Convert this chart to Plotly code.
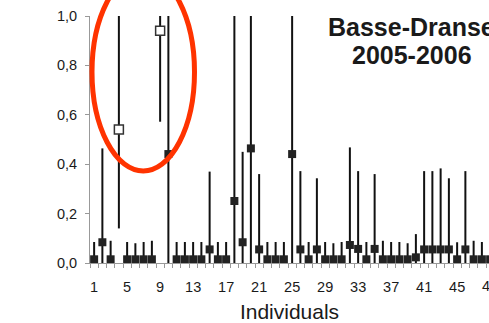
import plotly.graph_objects as go

# ---- data ----
individuals = list(range(1, 50))
values = [0.015, 0.084, 0.015, 0.54, 0.015, 0.015, 0.015, 0.015, 0.94, 0.441,
          0.015, 0.015, 0.015, 0.015, 0.055, 0.015, 0.015, 0.251, 0.084, 0.464,
          0.055, 0.015, 0.015, 0.015, 0.441, 0.055, 0.015, 0.055, 0.015, 0.015,
          0.015, 0.073, 0.057, 0.015, 0.057, 0.015, 0.015, 0.015, 0.015, 0.023,
          0.055, 0.055, 0.055, 0.055, 0.015, 0.055, 0.015, 0.015, 0.015]
upper = [0.085, 0.464, 0.09, 1.0, 0.085, 0.08, 0.085, 0.09, 1.0, 1.0,
         0.085, 0.085, 0.085, 0.085, 0.37, 0.085, 0.085, 1.0, 0.45, 1.0,
         0.36, 0.085, 0.085, 0.085, 1.0, 0.372, 0.085, 0.343, 0.085, 0.08,
         0.085, 0.468, 0.372, 0.085, 0.36, 0.09, 0.085, 0.085, 0.08, 0.117,
         0.372, 0.372, 0.383, 0.343, 0.084, 0.372, 0.09, 0.085, 0.085]
lower = [0.0, 0.0, 0.0, 0.14, 0.0, 0.0, 0.0, 0.0, 0.572, 0.0,
         0.0, 0.0, 0.0, 0.0, 0.0, 0.0, 0.0, 0.0, 0.0, 0.0,
         0.0, 0.0, 0.0, 0.0, 0.0, 0.0, 0.0, 0.0, 0.0, 0.0,
         0.0, 0.0, 0.0, 0.0, 0.0, 0.0, 0.0, 0.0, 0.0, 0.0,
         0.0, 0.0, 0.0, 0.0, 0.0, 0.0, 0.0, 0.0, 0.0]
open_points = [4, 9]
y_tickvals = [0.0, 0.2, 0.4, 0.6, 0.8, 1.0]
y_ticktext = ["0,0", "0,2", "0,4", "0,6", "0,8", "1,0"]
x_tickvals = [1, 5, 9, 13, 17, 21, 25, 29, 33, 37, 41, 45]
x_edge_label = "49"
title_lines = ["Basse-Dranse", "2005-2006"]

plus = [u - v for u, v in zip(upper, values)]
minus = [v - l for v, l in zip(values, lower)]

fill_colors = ["white" if i in open_points else "#222222" for i in individuals]
sizes = [9 if i in open_points else 8 for i in individuals]
line_w = [1.5 if i in open_points else 0 for i in individuals]

fig = go.Figure()
fig.add_trace(go.Scatter(
    x=individuals, y=values, mode="markers",
    marker=dict(symbol="square", size=sizes, color=fill_colors, opacity=1,
                line=dict(color="#333333", width=line_w)),
    error_y=dict(type="data", symmetric=False, array=plus, arrayminus=minus,
                 thickness=2, width=0, color="#111111"),
    showlegend=False,
))

W, H = 489, 323
L, R, T, B = 90, 0, 16, 60
pw, ph = W - L - R, H - T - B
step = 8.25

def px(xp):
    return (xp - L) / pw

def py(yp):
    return (T + ph - yp) / ph

tick_font = dict(size=14.5, color="#1a1a1a")

fig.update_layout(
    width=W, height=H,
    margin=dict(l=L, r=R, t=T, b=B),
    plot_bgcolor="white", paper_bgcolor="white",
    font=dict(family="Liberation Sans, Arial, sans-serif", color="#1a1a1a"),
    xaxis=dict(
        range=[0.5, 0.5 + pw / step],
        tickvals=x_tickvals, ticks="", ticklabelstandoff=11,
        tickfont=tick_font,
        minor=dict(tick0=0.5, dtick=1, ticks="outside", ticklen=4,
                   tickcolor="#999999", tickwidth=1),
        showline=True, linecolor="#999999", linewidth=1,
        showgrid=False, zeroline=False,
        title=dict(text="Individuals", font=dict(size=21), standoff=9),
    ),
    yaxis=dict(
        range=[0, 1.0],
        tickvals=y_tickvals, ticktext=y_ticktext,
        ticks="outside", ticklen=4, tickcolor="#999999",
        tickfont=tick_font, ticklabelstandoff=5,
        showline=True, linecolor="#999999", linewidth=1,
        showgrid=False, zeroline=False,
    ),
    annotations=[
        dict(text="<b>%s</b>" % title_lines[0], xref="paper", yref="paper",
             x=px(411.7), y=py(27), xanchor="center", yanchor="middle",
             showarrow=False, font=dict(size=25, color="#1a1a1a")),
        dict(text="<b>%s</b>" % title_lines[1], xref="paper", yref="paper",
             x=px(411.7), y=py(55.3), xanchor="center", yanchor="middle",
             showarrow=False, font=dict(size=25, color="#1a1a1a")),
        dict(text=x_edge_label, xref="paper", yref="paper",
             x=px(L + (49 - 0.5) * step), y=py(286), xanchor="center",
             yanchor="middle", showarrow=False, font=tick_font),
    ],
    shapes=[
        dict(type="circle", xref="paper", yref="paper",
             x0=px(92), x1=px(194.5), y0=py(171), y1=py(-27),
             line=dict(color="#ff3300", width=5)),
    ],
)

fig.write_html("out.html")
